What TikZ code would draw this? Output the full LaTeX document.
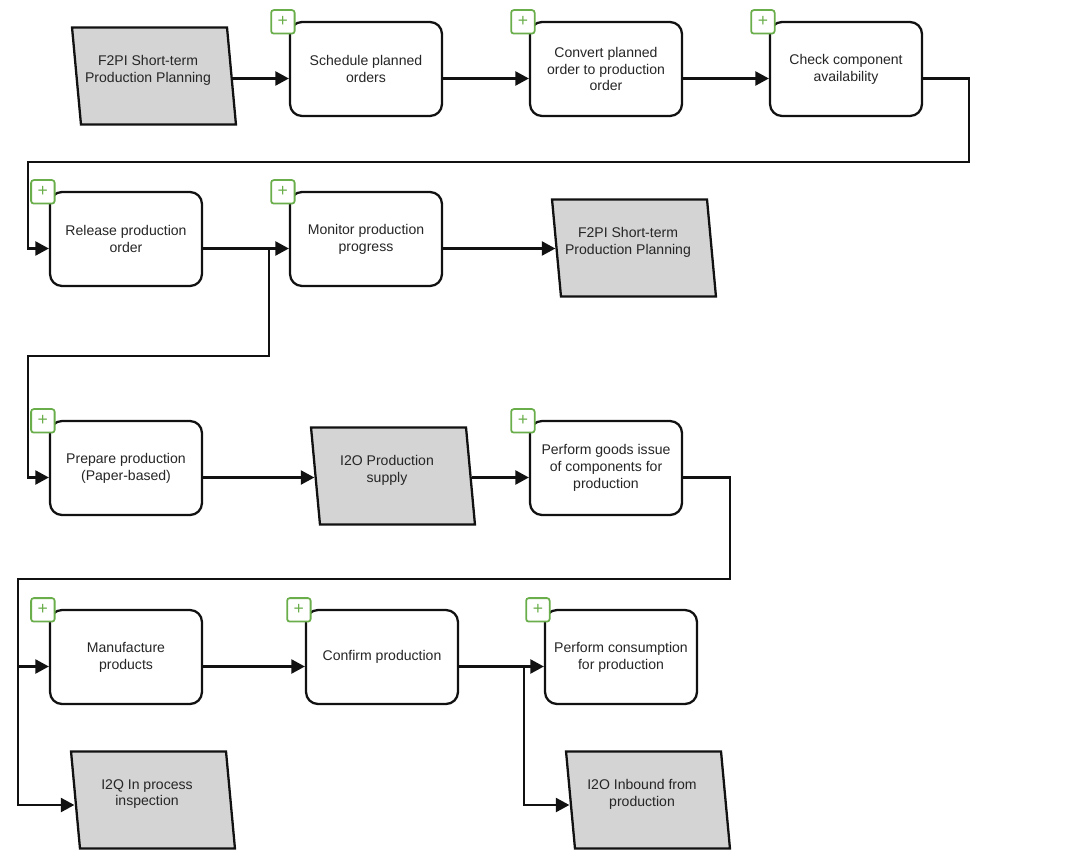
\documentclass[tikz,border=0pt]{standalone}
\usepackage{fontspec}
\setmainfont{Liberation Sans}
\usepackage{xcolor}
\usepackage{tikz}
\usetikzlibrary{arrows.meta,shapes.geometric}
\definecolor{plusgreen}{HTML}{6AAE4B}
\definecolor{paragrey}{HTML}{D4D4D4}
\definecolor{linegrey}{HTML}{111111}
\definecolor{textgrey}{HTML}{262626}

\begin{document}
\begin{tikzpicture}[x=0.02cm,y=-0.02cm,font=\fontsize{8}{9.6}\selectfont,
task/.style={draw=linegrey,line width=1.3pt,rounded corners=0.24cm,fill=white,minimum width=3.04cm,minimum height=1.88cm,align=center,text=textgrey,inner sep=2pt},
para/.style={trapezium,trapezium left angle=93.5,trapezium right angle=86.5,trapezium stretches=true,draw=linegrey,line width=1.3pt,fill=paragrey,minimum width=3.28cm,minimum height=1.94cm},
paratext/.style={align=center,text=textgrey,xshift=-0.12cm,yshift=0.12cm},
plus/.style={draw=plusgreen,line width=1pt,rounded corners=1.5pt,fill=white,minimum size=0.47cm,inner sep=0pt,text=plusgreen,font=\fontsize{10}{10}\selectfont},
flow/.style={draw=linegrey,line width=1.3pt,-{Triangle[length=0.27cm,width=0.28cm]}}]
\useasboundingbox (0,0) rectangle (1085,868);

\node[para,label={[paratext]center:{F2PI Short-term\\Production Planning}}] (para1) at (154,76) {};
\node[task] (sched) at (366,69) {Schedule planned\\orders};
\node[task] (convert) at (606,69) {Convert planned\\order to production\\order};
\node[task] (check) at (846,69) {Check component\\availability};

\node[task] (release) at (126,239) {Release production\\order};
\node[task] (monitor) at (366,239) {Monitor production\\progress};
\node[para,label={[paratext]center:{F2PI Short-term\\Production Planning}}] (para2) at (634,248) {};

\node[task] (prepare) at (126,468) {Prepare production\\(Paper-based)};
\node[para,label={[paratext]center:{I2O Production\\supply}}] (supply) at (393,476) {};
\node[task] (issue) at (606,468) {Perform goods issue\\of components for\\production};

\node[task] (manuf) at (126,657) {Manufacture\\products};
\node[task] (confirm) at (382,657) {Confirm production};
\node[task] (consume) at (621,657) {Perform consumption\\for production};

\node[para,label={[paratext]center:{I2Q In process\\inspection}}] (inspect) at (153,800) {};
\node[para,label={[paratext]center:{I2O Inbound from\\production}}] (inbound) at (648,800) {};

\coordinate (wrap1) at (28,162);
\coordinate (wrap2) at (28,356);
\coordinate (wrap3) at (18,579);

\draw[flow] ([yshift=-0.19cm]sched.west -| para1.east) -- ([yshift=-0.19cm]sched.west);
\draw[flow] ([yshift=-0.19cm]sched.east) -- ([yshift=-0.19cm]convert.west);
\draw[flow] ([yshift=-0.19cm]convert.east) -- ([yshift=-0.19cm]check.west);
\draw[flow] ([yshift=-0.19cm]check.east) -- ++(46,0) |- (wrap1) |- ([yshift=-0.19cm]release.west);
\draw[flow] ([yshift=-0.19cm]release.east) -- ([yshift=-0.19cm]monitor.west);
\draw[flow] ([yshift=-0.19cm]release.east) ++(66,0) |- (wrap2) |- ([yshift=-0.19cm]prepare.west);
\draw[flow] ([yshift=-0.19cm]monitor.east) -- ([yshift=-0.19cm]monitor.east -| para2.west);
\draw[flow] ([yshift=-0.19cm]prepare.east) -- ([yshift=-0.19cm]prepare.east -| supply.west);
\draw[flow] ([yshift=-0.19cm]issue.west -| supply.east) -- ([yshift=-0.19cm]issue.west);
\draw[flow] ([yshift=-0.19cm]issue.east) -- ++(47,0) |- (wrap3) |- ([yshift=-0.19cm]manuf.west);
\draw[flow] (wrap3) |- ([yshift=-0.1cm]inspect.west);
\draw[flow] ([yshift=-0.19cm]manuf.east) -- ([yshift=-0.19cm]confirm.west);
\draw[flow] ([yshift=-0.19cm]confirm.east) -- ([yshift=-0.19cm]consume.west);
\draw[flow] ([yshift=-0.19cm]confirm.east) ++(65,0) |- ([yshift=-0.1cm]inbound.west);

\foreach \n in {sched,convert,check,release,monitor,prepare,issue,manuf,confirm,consume}
  \node[plus] (\n-plus) at ([xshift=-0.12cm,yshift=-0.02cm]\n.north west) {+};
\end{tikzpicture}
\end{document}
